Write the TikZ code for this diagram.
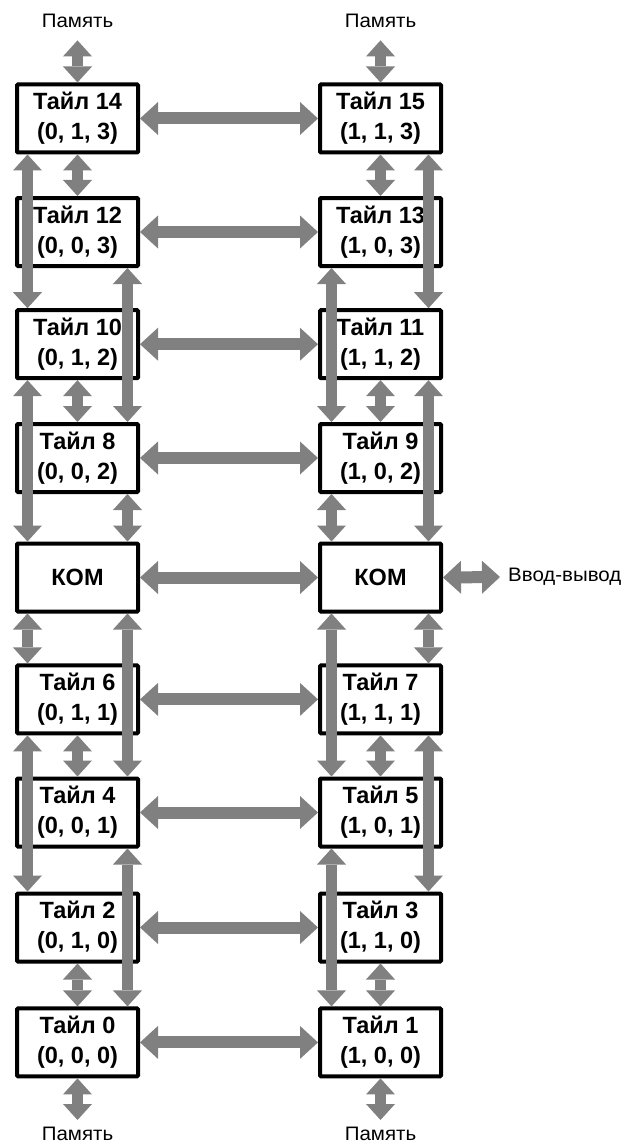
\documentclass[tikz,border=0pt]{standalone}
\usepackage{fontspec}
\usetikzlibrary{arrows.meta}
\newfontfamily\diafont[FakeStretch=1.05]{Liberation Sans}
\newfontfamily\tilefont{Liberation Sans}
\definecolor{arrgray}{RGB}{128,128,128}
\begin{document}
\begin{tikzpicture}[x=1pt,y=-1pt,
  tile/.style={draw=black, line width=4pt, fill=white, rounded corners=1pt,
    minimum width=121pt, minimum height=68pt, inner sep=0pt, align=center,
    font=\tilefont\bfseries\fontsize{23.5}{30}\selectfont},
  lbl/.style={inner sep=0pt, font=\diafont\fontsize{19.5}{22}\selectfont},
  varr/.style={draw=arrgray, line width=11.5pt,
    {Triangle[width=29pt,length=16pt,line width=0pt]}-{Triangle[width=29pt,length=16pt,line width=0pt]}},
  harr/.style={draw=arrgray, line width=12pt,
    {Triangle[width=33pt,length=18pt,line width=0pt]}-{Triangle[width=33pt,length=18pt,line width=0pt]}},
]
\useasboundingbox (0,0) rectangle (630,1142);

% labels
\node[lbl] (memTL) at (77.5,21) {Память};
\node[lbl] (memTR) at (380.5,21) {Память};
\node[lbl] (memBL) at (77.5,1133.5) {Память};
\node[lbl] (memBR) at (380.5,1133.5) {Память};
\node[lbl, anchor=west] (io) at (508,577) {Ввод-вывод};

% tiles, left column
\node[tile] (t14) at (77.5,118.5) {Тайл 14\\(0, 1, 3)};
\node[tile] (t12) at (77.5,232) {Тайл 12\\(0, 0, 3)};
\node[tile] (t10) at (77.5,344.2) {Тайл 10\\(0, 1, 2)};
\node[tile] (t8) at (77.5,458) {Тайл 8\\(0, 0, 2)};
\node[tile] (komL) at (77.5,577.5) {КОМ};
\node[tile] (t6) at (77.5,699.4) {Тайл 6\\(0, 1, 1)};
\node[tile] (t4) at (77.5,812.5) {Тайл 4\\(0, 0, 1)};
\node[tile] (t2) at (77.5,927.5) {Тайл 2\\(0, 1, 0)};
\node[tile] (t0) at (77.5,1042.4) {Тайл 0\\(0, 0, 0)};
% tiles, right column
\node[tile] (t15) at (380.5,118.5) {Тайл 15\\(1, 1, 3)};
\node[tile] (t13) at (380.5,232) {Тайл 13\\(1, 0, 3)};
\node[tile] (t11) at (380.5,344.2) {Тайл 11\\(1, 1, 2)};
\node[tile] (t9) at (380.5,458) {Тайл 9\\(1, 0, 2)};
\node[tile] (komR) at (380.5,577.5) {КОМ};
\node[tile] (t7) at (380.5,699.4) {Тайл 7\\(1, 1, 1)};
\node[tile] (t5) at (380.5,812.5) {Тайл 5\\(1, 0, 1)};
\node[tile] (t3) at (380.5,927.5) {Тайл 3\\(1, 1, 0)};
\node[tile] (t1) at (380.5,1042.4) {Тайл 1\\(1, 0, 0)};

% horizontal links
\foreach \a/\b in {t14/t15, t12/t13, t10/t11, t8/t9, komL/komR, t6/t7, t4/t5, t2/t3, t0/t1}
  \draw[harr] (\a.east) -- (\b.west);
\draw[harr] (komR.east) -- ([xshift=-8pt]io.west);

% memory links
\draw[varr] ([yshift=-12.4pt]memTL.south) -- (t14.north);
\draw[varr] ([yshift=-12.4pt]memTR.south) -- (t15.north);
\draw[varr] (t0.south) -- ([yshift=6.5pt]memBL.north);
\draw[varr] (t1.south) -- ([yshift=6.5pt]memBR.north);

% centre vertical links
\foreach \a/\b in {t14/t12, t10/t8, t6/t4, t2/t0, t15/t13, t11/t9, t7/t5, t3/t1}
  \draw[varr] (\a.south) -- (\b.north);

% left column side links
\foreach \a/\b in {t14/t10, t10/komL, komL/t6, t6/t2}
  \draw[varr] ([xshift=-50pt]\a.south) -- ([xshift=-50pt]\b.north);
\foreach \a/\b in {t12/t8, t8/komL, komL/t4, t4/t0}
  \draw[varr] ([xshift=50pt]\a.south) -- ([xshift=50pt]\b.north);
% right column side links
\foreach \a/\b in {t13/t9, t9/komR, komR/t5, t5/t1}
  \draw[varr] ([xshift=-49pt]\a.south) -- ([xshift=-49pt]\b.north);
\foreach \a/\b in {t15/t11, t11/komR, komR/t7, t7/t3}
  \draw[varr] ([xshift=48pt]\a.south) -- ([xshift=48pt]\b.north);
\end{tikzpicture}
\end{document}
